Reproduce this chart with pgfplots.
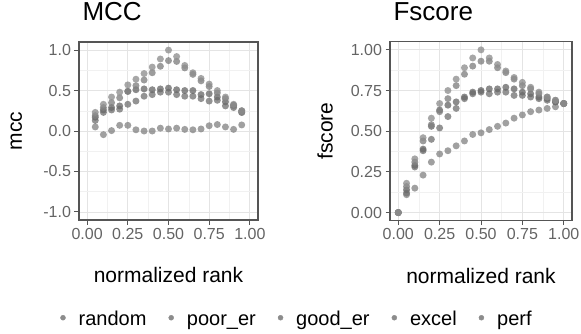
\documentclass[border=0pt]{standalone}
\usepackage{fontspec}
\setmainfont{Liberation Sans}
\usepackage{pgfplots}
\pgfplotsset{compat=1.18}

\definecolor{gridmaj}{HTML}{E4E4E4}
\definecolor{gridmin}{HTML}{F1F1F1}
\definecolor{border}{HTML}{555555}
\definecolor{ticklab}{HTML}{646464}
\definecolor{cRandom}{HTML}{858585}
\definecolor{cPoor}{HTML}{757575}
\definecolor{cGood}{HTML}{6A6A6A}
\definecolor{cExcel}{HTML}{808080}
\definecolor{cPerf}{HTML}{8E8E8E}
\definecolor{legdot}{HTML}{8C8C8C}

\pgfplotsset{
  gg/.style={
    scale only axis,
    axis line style={border, line width=1.1pt},
    tick style={border, line width=0.9pt},
    major tick length=4.5pt,
    minor tick length=0pt,
    tick align=outside,
    xtick pos=left, ytick pos=left,
    grid=both,
    minor tick num=1,
    major grid style={gridmaj, line width=0.8pt},
    minor grid style={gridmin, line width=0.5pt},
    tick label style={font=\fontsize{16}{16}\selectfont, text=ticklab},
    /pgf/number format/assume math mode=true,
    label style={font=\fontsize{21}{21}\selectfont},
    title style={font=\fontsize{26}{26}\selectfont, anchor=base west},
    xtick={0,0.25,0.5,0.75,1},
    xmin=-0.05, xmax=1.05,
    xticklabel style={/pgf/number format/.cd, fixed, fixed zerofill, precision=2},
    legend image code/.code={\fill[legdot] (0pt,5.5pt) circle (2.5pt);},
  },
  dots/.style={only marks, mark=*, mark size=3.5pt, color=#1,
    mark options={solid, draw=#1, fill=#1, draw opacity=0, fill opacity=0.78}},
}

\begin{document}
\begin{tikzpicture}
\useasboundingbox (0,0) rectangle (581pt,333pt);

% ---------------- MCC ----------------
\begin{axis}[gg,
  at={(79pt,291pt)}, anchor=north west,
  width=179pt, height=178pt,
  ymin=-1.1, ymax=1.1,
  ytick={-1,-0.5,0,0.5,1},
  yticklabel style={/pgf/number format/.cd, fixed, fixed zerofill, precision=1},
  title={MCC},
  title style={at={(axis description cs:0,1.088)}},
  xlabel={normalized rank},
  xlabel style={at={(axis description cs:0.5,-0.31)}, anchor=center},
  ylabel={mcc},
  ylabel style={at={(axis description cs:-0.35,0.5)}, anchor=center},
  legend columns=5,
  legend style={at={(axis description cs:1.212,-0.57)}, anchor=center,
    draw=none, fill=none, font=\fontsize{20}{20}\selectfont,
    nodes={inner sep=0pt, text height=0.72em, text depth=0.21em},
    /tikz/every odd column/.append style={column sep=13pt},
    /tikz/every even column/.append style={column sep=22pt}},
]
\addplot[dots=cRandom] coordinates {
(0.05,0.05) (0.10,-0.045) (0.15,0.005) (0.20,0.07) (0.25,0.07) (0.30,0.015)
(0.35,0.0) (0.40,0.0) (0.45,0.035) (0.50,0.025) (0.55,0.035) (0.60,0.02)
(0.65,0.015) (0.70,0.025) (0.75,0.065) (0.80,0.08) (0.85,0.05) (0.90,0.02) (0.95,0.075)};
\addlegendentry{random}
\addplot[dots=cPoor] coordinates {
(0.05,0.13) (0.10,0.23) (0.15,0.26) (0.20,0.27) (0.25,0.33) (0.30,0.37)
(0.35,0.43) (0.40,0.45) (0.45,0.48) (0.50,0.48) (0.55,0.45) (0.60,0.43)
(0.65,0.43) (0.70,0.40) (0.75,0.37) (0.80,0.38) (0.85,0.31) (0.90,0.29) (0.95,0.23)};
\addlegendentry{poor\_er}
\addplot[dots=cGood] coordinates {
(0.05,0.17) (0.10,0.26) (0.15,0.29) (0.20,0.31) (0.25,0.49) (0.30,0.51)
(0.35,0.52) (0.40,0.51) (0.45,0.52) (0.50,0.53) (0.55,0.51) (0.60,0.50)
(0.65,0.50) (0.70,0.45) (0.75,0.46) (0.80,0.42) (0.85,0.36) (0.90,0.32) (0.95,0.25)};
\addlegendentry{good\_er}
\addplot[dots=cExcel] coordinates {
(0.05,0.19) (0.10,0.29) (0.15,0.35) (0.20,0.41) (0.25,0.49) (0.30,0.56)
(0.35,0.63) (0.40,0.72) (0.45,0.80) (0.50,0.87) (0.55,0.86) (0.60,0.78)
(0.65,0.70) (0.70,0.62) (0.75,0.55) (0.80,0.47) (0.85,0.40) (0.90,0.31) (0.95,0.23)};
\addlegendentry{excel}
\addplot[dots=cPerf] coordinates {
(0.05,0.23) (0.10,0.33) (0.15,0.42) (0.20,0.48) (0.25,0.57) (0.30,0.64)
(0.35,0.71) (0.40,0.79) (0.45,0.89) (0.50,1.00) (0.55,0.92) (0.60,0.81)
(0.65,0.72) (0.70,0.65) (0.75,0.58) (0.80,0.50) (0.85,0.42) (0.90,0.33) (0.95,0.25)};
\addlegendentry{perf}
\end{axis}

% ---------------- Fscore ----------------
\begin{axis}[gg,
  at={(390pt,291.3pt)}, anchor=north west,
  width=182pt, height=179pt,
  ymin=-0.05, ymax=1.05,
  ytick={0,0.25,0.5,0.75,1},
  yticklabel style={/pgf/number format/.cd, fixed, fixed zerofill, precision=2},
  title={Fscore},
  title style={at={(axis description cs:0,1.087)}},
  xlabel={normalized rank},
  xlabel style={at={(axis description cs:0.5,-0.307)}, anchor=center},
  ylabel={fscore},
  ylabel style={at={(axis description cs:-0.357,0.5)}, anchor=center},
]
\addplot[dots=cRandom] coordinates {
(0,0) (0.05,0.11) (0.10,0.15) (0.15,0.23) (0.20,0.31) (0.25,0.36) (0.30,0.38)
(0.35,0.41) (0.40,0.44) (0.45,0.48) (0.50,0.49) (0.55,0.51) (0.60,0.53)
(0.65,0.55) (0.70,0.58) (0.75,0.60) (0.80,0.62) (0.85,0.63) (0.90,0.64) (0.95,0.65) (1.00,0.67)};
\addplot[dots=cPoor] coordinates {
(0,0) (0.05,0.12) (0.10,0.28) (0.15,0.38) (0.20,0.45) (0.25,0.52) (0.30,0.59)
(0.35,0.64) (0.40,0.70) (0.45,0.73) (0.50,0.74) (0.55,0.73) (0.60,0.74)
(0.65,0.74) (0.70,0.72) (0.75,0.72) (0.80,0.71) (0.85,0.70) (0.90,0.69) (0.95,0.68) (1.00,0.67)};
\addplot[dots=cGood] coordinates {
(0,0) (0.05,0.14) (0.10,0.29) (0.15,0.39) (0.20,0.53) (0.25,0.63) (0.30,0.66)
(0.35,0.68) (0.40,0.71) (0.45,0.74) (0.50,0.75) (0.55,0.76) (0.60,0.76)
(0.65,0.77) (0.70,0.76) (0.75,0.74) (0.80,0.73) (0.85,0.71) (0.90,0.70) (0.95,0.68) (1.00,0.67)};
\addplot[dots=cExcel] coordinates {
(0,0) (0.05,0.16) (0.10,0.31) (0.15,0.44) (0.20,0.54) (0.25,0.62) (0.30,0.70)
(0.35,0.78) (0.40,0.85) (0.45,0.90) (0.50,0.93) (0.55,0.93) (0.60,0.89)
(0.65,0.86) (0.70,0.82) (0.75,0.78) (0.80,0.76) (0.85,0.73) (0.90,0.71) (0.95,0.69) (1.00,0.67)};
\addplot[dots=cPerf] coordinates {
(0,0) (0.05,0.18) (0.10,0.33) (0.15,0.46) (0.20,0.58) (0.25,0.67) (0.30,0.75)
(0.35,0.82) (0.40,0.89) (0.45,0.95) (0.50,1.00) (0.55,0.95) (0.60,0.91)
(0.65,0.87) (0.70,0.83) (0.75,0.80) (0.80,0.77) (0.85,0.74) (0.90,0.71) (0.95,0.69) (1.00,0.67)};
\end{axis}
\end{tikzpicture}
\end{document}
